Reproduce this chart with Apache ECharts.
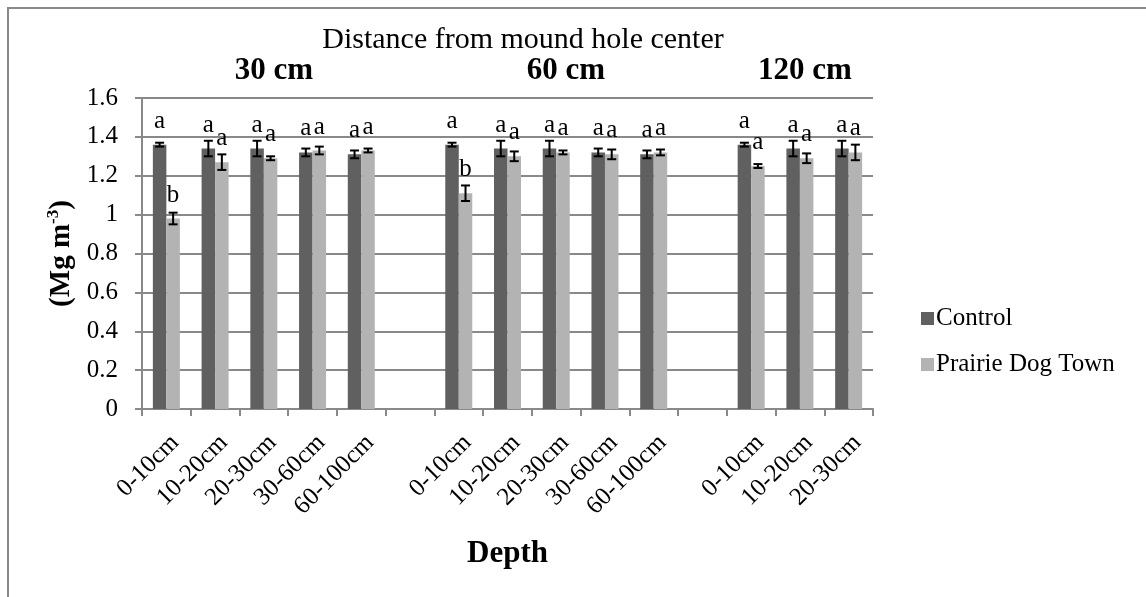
<!DOCTYPE html>
<html>
<head>
<meta charset="utf-8">
<script src="https://cdn.jsdelivr.net/npm/echarts@6/dist/echarts.min.js"></script>
<style>
html,body{margin:0;padding:0;background:#fff;}
#chart{width:1146px;height:597px;}
</style>
</head>
<body>
<div id="chart"></div>
<script>
// ---- data ----
var categories = ['0-10cm','10-20cm','20-30cm','30-60cm','60-100cm','',
                  '0-10cm','10-20cm','20-30cm','30-60cm','60-100cm','',
                  '0-10cm','10-20cm','20-30cm'];
var control    = [1.36,1.34,1.34,1.32,1.31,null, 1.36,1.34,1.34,1.32,1.31,null, 1.36,1.34,1.34];
var controlErr = [0.01,0.04,0.04,0.02,0.02,null, 0.01,0.04,0.04,0.02,0.02,null, 0.01,0.04,0.04];
var pdt        = [0.98,1.27,1.29,1.33,1.33,null, 1.11,1.30,1.32,1.31,1.32,null, 1.25,1.29,1.32];
var pdtErr     = [0.03,0.04,0.01,0.02,0.01,null, 0.04,0.025,0.01,0.025,0.015,null, 0.01,0.025,0.04];
var controlLetters = ['a','a','a','a','a','', 'a','a','a','a','a','', 'a','a','a'];
var pdtLetters     = ['b','a','a','a','a','', 'b','a','a','a','a','', 'a','a','a'];
var yTicks = ['0','0.2','0.4','0.6','0.8','1','1.2','1.4','1.6'];
var seriesNames = ['Control','Prairie Dog Town'];
var groupTitles = ['30 cm','60 cm','120 cm'];

var FONT = '"Liberation Serif","Times New Roman",serif';
var GRID = '#898989';
var C1 = '#606060', C2 = '#b3b3b3';

function errData(vals, errs){
  var out = [];
  for (var i=0;i<vals.length;i++){
    if (vals[i] != null) out.push([i, vals[i], errs[i]]);
  }
  return out;
}
function errSeries(vals, errs, sign){
  return {
    type:'custom', z:5, silent:true,
    data: errData(vals, errs),
    renderItem: function(params, api){
      var idx = api.value(0), v = api.value(1), e = api.value(2);
      var bw = api.size([1,0])[0];
      var c = api.coord([idx, v]);
      var x = c[0] + sign * bw * 0.1385;
      var yt = api.coord([idx, v+e])[1];
      var yb = api.coord([idx, v-e])[1];
      var hw = 4.5;
      var st = {stroke:'#000', lineWidth:2};
      return {type:'group', children:[
        {type:'line', shape:{x1:x,y1:yt,x2:x,y2:yb}, style:st},
        {type:'line', shape:{x1:x-hw,y1:yt,x2:x+hw,y2:yt}, style:st},
        {type:'line', shape:{x1:x-hw,y1:yb,x2:x+hw,y2:yb}, style:st}
      ]};
    }
  };
}

var chart = echarts.init(document.getElementById('chart'), null, {renderer:'canvas'});
var option = {
  animation:false,
  backgroundColor:'#fff',
  textStyle:{fontFamily:FONT},
  grid:{left:142, right:273, top:98, bottom:188, containLabel:false},
  legend:{
    orient:'vertical', left:916, top:301,
    itemWidth:13, itemHeight:13, itemGap:21,
    icon:'rect',
    textStyle:{fontFamily:FONT, fontSize:25, color:'#000', padding:[0,0,0,-3]},
    data:seriesNames
  },
  xAxis:{
    type:'category', data:categories,
    boundaryGap:true,
    name:'Depth', nameLocation:'middle', nameGap:129,
    nameTextStyle:{fontFamily:FONT, fontSize:31, fontWeight:'bold', color:'#000'},
    axisLine:{lineStyle:{color:GRID, width:2}},
    axisTick:{show:true, interval:0, length:7, lineStyle:{color:GRID, width:2}},
    axisLabel:{interval:0, rotate:45, align:'right', verticalAlign:'top', margin:21,
      fontFamily:FONT, fontSize:25, color:'#000'},
    splitLine:{show:false}
  },
  yAxis:{
    type:'value', min:0, max:1.6, interval:0.2,
    name:'{b|(Mg m}{s|-3}{b|)}', nameLocation:'middle', nameGap:64, nameRotate:90,
    nameTextStyle:{
      rich:{
        b:{fontFamily:FONT, fontSize:29, fontWeight:'bold', color:'#000', lineHeight:32},
        s:{fontFamily:FONT, fontSize:17, fontWeight:'bold', color:'#000', verticalAlign:'top', lineHeight:20}
      }
    },
    axisLine:{show:true, lineStyle:{color:GRID, width:2}},
    axisTick:{show:true, length:7, lineStyle:{color:GRID, width:2}},
    axisLabel:{margin:24, fontFamily:FONT, fontSize:25, color:'#000',
      formatter:function(v){ var i=Math.round(v/0.2); return yTicks[i]!==undefined?yTicks[i]:String(v); }},
    splitLine:{show:true, lineStyle:{color:GRID, width:2}}
  },
  series:[
    {name:seriesNames[0], type:'bar', data:control, barWidth:13.5, barGap:'0%',
     itemStyle:{color:C1},
     label:{show:true, position:'top', distance:11, fontFamily:FONT, fontSize:25, color:'#000',
       formatter:function(p){return controlLetters[p.dataIndex];}}},
    {name:seriesNames[1], type:'bar', data:pdt, barWidth:13.5, barGap:'0%',
     itemStyle:{color:C2},
     label:{show:true, position:'top', distance:11, fontFamily:FONT, fontSize:25, color:'#000',
       formatter:function(p){return pdtLetters[p.dataIndex];}}},
    errSeries(control, controlErr, -1),
    errSeries(pdt, pdtErr, 1)
  ],
  graphic:[
    {type:'rect', shape:{x:8, y:8, width:2000, height:2000}, style:{fill:null, stroke:GRID, lineWidth:2}, silent:true, z:-1},
    {type:'text', x:523, y:40, style:{text:'Distance from mound hole center', font:'30px '+FONT, fill:'#000', textAlign:'center', textVerticalAlign:'middle'}},
    {type:'text', x:274, y:71, style:{text:groupTitles[0], font:'bold 31px '+FONT, fill:'#000', textAlign:'center', textVerticalAlign:'middle'}},
    {type:'text', x:566, y:71, style:{text:groupTitles[1], font:'bold 31px '+FONT, fill:'#000', textAlign:'center', textVerticalAlign:'middle'}},
    {type:'text', x:805, y:71, style:{text:groupTitles[2], font:'bold 31px '+FONT, fill:'#000', textAlign:'center', textVerticalAlign:'middle'}}
  ]
};
chart.setOption(option);
</script>
</body>
</html>
